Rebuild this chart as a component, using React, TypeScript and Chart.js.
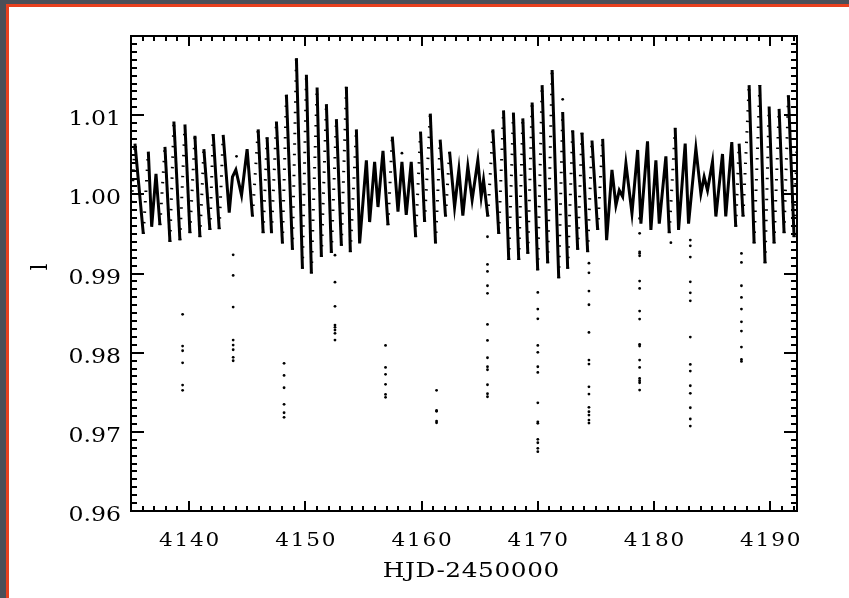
import { useEffect, useRef } from "react";
import { Chart, registerables } from "chart.js";

Chart.register(...registerables);

// Light curve: successive turning points of the relative flux (HJD-2450000, flux)
const curveDays = [
  4135.05, 4135.34, 4136.06, 4136.49, 4136.78, 4137.15, 4137.49, 4137.92, 4138.35, 4138.69,
  4139.21, 4139.64, 4140.07, 4140.5, 4140.93, 4141.27, 4141.79, 4142.07, 4142.59, 4142.93,
  4143.45, 4143.73, 4144.02, 4144.51, 4144.99, 4145.45, 4145.94, 4146.37, 4146.71, 4147.09,
  4147.51, 4148.03, 4148.37, 4148.89, 4149.23, 4149.75, 4150.09, 4150.52, 4151.01, 4151.38,
  4151.81, 4152.24, 4152.67, 4153.1, 4153.53, 4153.87, 4154.39, 4154.67, 4155.25, 4155.53,
  4155.96, 4156.25, 4156.68, 4157.11, 4157.48, 4157.97, 4158.31, 4158.68, 4159.11, 4159.49,
  4159.91, 4160.26, 4160.75, 4161.2, 4161.6, 4162.06, 4162.41, 4162.84, 4163.21, 4163.55,
  4163.98, 4164.35, 4164.84, 4165.13, 4165.33, 4165.7, 4166.13, 4166.64, 4167.05, 4167.5,
  4167.9, 4168.36, 4168.71, 4169.14, 4169.51, 4169.99, 4170.37, 4170.85, 4171.23, 4171.8,
  4172.14, 4172.57, 4173.0, 4173.43, 4173.8, 4174.29, 4174.66, 4175.15, 4175.58, 4175.92,
  4176.38, 4176.72, 4177.01, 4177.3, 4177.58, 4178.1, 4178.59, 4178.87, 4179.44, 4179.73,
  4180.16, 4180.45, 4181.02, 4181.31, 4181.82, 4182.11, 4182.68, 4182.97, 4183.6, 4184.03,
  4184.31, 4184.6, 4185.03, 4185.32, 4185.89, 4186.17, 4186.69, 4187.03, 4187.32, 4187.66,
  4188.18, 4188.61, 4189.1, 4189.55, 4189.9, 4190.33, 4190.76, 4191.19, 4191.56, 4192.05,
  4192.3,
];
const curveFlux = [
  0.999, 1.0064, 0.995, 1.0054, 0.9959, 1.0026, 0.9961, 1.006, 0.994, 1.0092,
  0.9942, 1.0088, 0.9951, 1.0074, 0.9946, 1.0057, 0.9955, 1.0076, 0.9956, 1.0075,
  0.9977, 1.0022, 1.0031, 0.9999, 1.0057, 0.9972, 1.0082, 0.9951, 1.0072, 0.9951,
  1.0092, 0.9938, 1.0126, 0.993, 1.0172, 0.9906, 1.0151, 0.99, 1.0135, 0.9921,
  1.0114, 0.9926, 1.0095, 0.9935, 1.0136, 0.9927, 1.0082, 0.9938, 1.0043, 0.9965,
  1.0041, 0.9984, 1.0055, 0.9961, 1.0073, 0.9978, 1.0041, 0.9974, 1.0041, 0.9946,
  1.0079, 0.9965, 1.0102, 0.9938, 1.0069, 0.9972, 1.0054, 0.9984, 1.0031, 0.9973,
  1.0035, 0.9993, 1.0043, 0.9997, 1.0018, 0.9972, 1.0082, 0.995, 1.0106, 0.9917,
  1.0103, 0.9917, 1.0096, 0.9925, 1.0116, 0.9904, 1.0138, 0.9913, 1.0157, 0.9894,
  1.0104, 0.9906, 1.0081, 0.993, 1.0078, 0.9927, 1.0068, 0.9955, 1.007, 0.9942,
  1.0031, 0.9986, 1.0005, 0.9997, 1.0039, 0.9976, 1.0056, 0.9963, 1.0067, 0.9955,
  1.0043, 0.9963, 1.0048, 0.9951, 1.0084, 0.9955, 1.0064, 0.9963, 1.0058, 1.0001,
  1.0022, 1.0005, 1.0041, 0.9972, 1.0051, 0.9972, 1.0066, 0.9959, 1.0064, 0.9972,
  1.0138, 0.9938, 1.0138, 0.9913, 1.0111, 0.9938, 1.0108, 0.9951, 1.0125, 0.9946,
  1.006,
];

// In-transit measurements, one column per event
const transitDays = [
  4139.44, 4143.79, 4148.17, 4152.55, 4156.9, 4161.29,
  4165.67, 4170.0, 4174.4, 4178.76, 4183.12, 4187.52,
];
const transitFlux = [
  [0.98484, 0.98083, 0.98024, 0.97872, 0.97591, 0.97524],
  [0.99236, 0.98976, 0.98576, 0.98159, 0.98096, 0.98037, 0.97941, 0.97898],
  [0.97865, 0.97713, 0.97557, 0.97347, 0.97241, 0.97183],
  [0.99232, 0.98891, 0.98585, 0.98349, 0.9832, 0.98285, 0.98244, 0.98159],
  [0.98092, 0.97814, 0.97726, 0.976, 0.97473, 0.97436],
  [0.97524, 0.97271, 0.97259, 0.97136, 0.97115],
  [0.99464, 0.99115, 0.99026, 0.98845, 0.98749, 0.98357, 0.98155, 0.97936, 0.97822, 0.97784, 0.97595, 0.97481, 0.97443],
  [0.98761, 0.98551, 0.98428, 0.98092, 0.98004, 0.97822, 0.97751, 0.97367, 0.97127, 0.97107, 0.96905, 0.96862, 0.96792, 0.96749],
  [0.99131, 0.99009, 0.98778, 0.98605, 0.98256, 0.97907, 0.97856, 0.97569, 0.97477, 0.97309, 0.97254, 0.97212, 0.97149, 0.97111],
  [0.99696, 0.99507, 0.99274, 0.99254, 0.99223, 0.98904, 0.98812, 0.98525, 0.98424, 0.98105, 0.98083, 0.97906, 0.97814, 0.97675, 0.97645, 0.9762, 0.97528],
  [0.99422, 0.9935, 0.99207, 0.98895, 0.98756, 0.98655, 0.98197, 0.97852, 0.97768, 0.97582, 0.97486, 0.97304, 0.97162, 0.97073],
  [0.99254, 0.9914, 0.98845, 0.98698, 0.98551, 0.9839, 0.98273, 0.98071, 0.97915, 0.9789],
];

// Isolated points off the main band
const strayDays = [4144.08, 4158.31, 4172.14, 4181.45];
const strayFlux = [1.0048, 1.0052, 1.012, 0.9939];

const xMin = 4135;
const xMax = 4192.3;
const yMin = 0.96;
const yMax = 1.02;
const xTicks = [4140, 4150, 4160, 4170, 4180, 4190];
const yTicks = [0.96, 0.97, 0.98, 0.99, 1.0, 1.01];
const xTitle = "HJD-2450000";
const yTitle = "l";

const FONT = '"DejaVu Serif", "Liberation Serif", serif';

// Text with a horizontal stretch and letter spacing, anchored at its baseline
function drawStretched(
  ctx: CanvasRenderingContext2D,
  text: string,
  x: number,
  y: number,
  align: "left" | "center" | "right",
  size: number,
  sx: number,
  spacing: number
) {
  ctx.save();
  ctx.font = `${size}px ${FONT}`;
  (ctx as any).letterSpacing = `${spacing}px`;
  ctx.textAlign = "left";
  ctx.textBaseline = "alphabetic";
  const w = (ctx.measureText(text).width - spacing) * sx;
  let left = x;
  if (align === "center") left = x - w / 2;
  if (align === "right") left = x - w;
  ctx.translate(left, y);
  ctx.scale(sx, 1);
  ctx.fillText(text, 0, 0);
  ctx.restore();
}

const idlAxes = {
  id: "idlAxes",
  afterDraw(chart: any) {
    const { ctx, chartArea: a, scales } = chart;
    const xs = scales.x;
    const ys = scales.y;
    ctx.save();
    ctx.strokeStyle = "#000";
    ctx.fillStyle = "#000";
    ctx.lineWidth = 2;
    ctx.lineCap = "butt";

    // x ticks: majors every 10 days, minors every day, on bottom and top
    for (let d = Math.ceil(xMin); d <= xMax; d += 1) {
      const major = xTicks.includes(d);
      const len = major ? 10 : 5;
      const px = Math.round(xs.getPixelForValue(d));
      ctx.beginPath();
      ctx.moveTo(px, a.bottom);
      ctx.lineTo(px, a.bottom - len);
      ctx.moveTo(px, a.top);
      ctx.lineTo(px, a.top + len);
      ctx.stroke();
    }
    // y ticks: majors every 0.01, minors every 0.001, on left and right
    for (let i = 0; i <= 60; i++) {
      const v = yMin + i * 0.001;
      const major = i % 10 === 0;
      const len = major ? 13 : 6;
      const py = Math.round(ys.getPixelForValue(v));
      ctx.beginPath();
      ctx.moveTo(a.left, py);
      ctx.lineTo(a.left + len, py);
      ctx.moveTo(a.right, py);
      ctx.lineTo(a.right - len, py);
      ctx.stroke();
    }
    ctx.strokeRect(a.left, a.top, a.right - a.left, a.bottom - a.top);

    // tick labels
    for (const t of xTicks) {
      drawStretched(ctx, String(t), xs.getPixelForValue(t), 546, "center", 18, 1.2, 1.5);
    }
    for (const t of yTicks) {
      drawStretched(ctx, t.toFixed(2), 121, ys.getPixelForValue(t) + 10, "right", 20.5, 1.15, 0);
    }

    // axis titles
    drawStretched(ctx, xTitle, 471, 577, "center", 21, 1.18, 0.5);
    ctx.save();
    ctx.translate(38, 267);
    ctx.rotate(-Math.PI / 2);
    drawStretched(ctx, yTitle, 0, 8.5, "center", 22, 1, 0);
    ctx.restore();

    ctx.restore();
  },
};

export default function App() {
  const canvasRef = useRef<HTMLCanvasElement | null>(null);

  useEffect(() => {
    document.body.style.margin = "0";
    document.body.style.overflow = "hidden";
    const canvas = canvasRef.current;
    if (!canvas) return;

    const curve = curveDays.map((d, i) => ({ x: d, y: curveFlux[i] }));
    const dips: { x: number; y: number }[] = [];
    transitDays.forEach((d, i) => {
      transitFlux[i].forEach((f) => dips.push({ x: d, y: f }));
    });
    strayDays.forEach((d, i) => dips.push({ x: d, y: strayFlux[i] }));

    const chart = new Chart(canvas, {
      type: "scatter",
      data: {
        datasets: [
          {
            data: curve,
            showLine: true,
            borderColor: "#000",
            borderWidth: 3,
            pointRadius: 0,
            tension: 0,
            segment: {
              // fast brightenings are sparsely sampled: draw them as loose dots
              borderDash: (c: any) => {
                const rise = c.p1.parsed.y - c.p0.parsed.y;
                const span = c.p1.parsed.x - c.p0.parsed.x;
                return rise > 0 && rise / span > 0.022 ? [1.5, 9] : undefined;
              },
            },
          } as any,
          {
            data: dips,
            showLine: false,
            pointRadius: 1.4,
            pointBorderWidth: 0,
            backgroundColor: "#000",
            borderColor: "#000",
          },
        ],
      },
      options: {
        responsive: false,
        animation: false,
        events: [],
        layout: { padding: { left: 131, right: 52, top: 36, bottom: 87 } },
        scales: {
          x: { type: "linear", display: false, min: xMin, max: xMax },
          y: { type: "linear", display: false, min: yMin, max: yMax },
        },
        plugins: { legend: { display: false }, tooltip: { enabled: false } },
      },
      plugins: [idlAxes],
    });

    return () => chart.destroy();
  }, []);

  return (
    <div style={{ position: "relative", width: 849, height: 598, background: "#4b4f58", overflow: "hidden" }}>
      <div
        style={{
          position: "absolute",
          left: 6,
          top: 4,
          right: 0,
          bottom: 0,
          background: "#fff",
          borderTop: "3px solid #e8401f",
          borderLeft: "3px solid #e8401f",
        }}
      />
      <canvas ref={canvasRef} width={849} height={598} style={{ position: "absolute", left: 0, top: 0 }} />
    </div>
  );
}
